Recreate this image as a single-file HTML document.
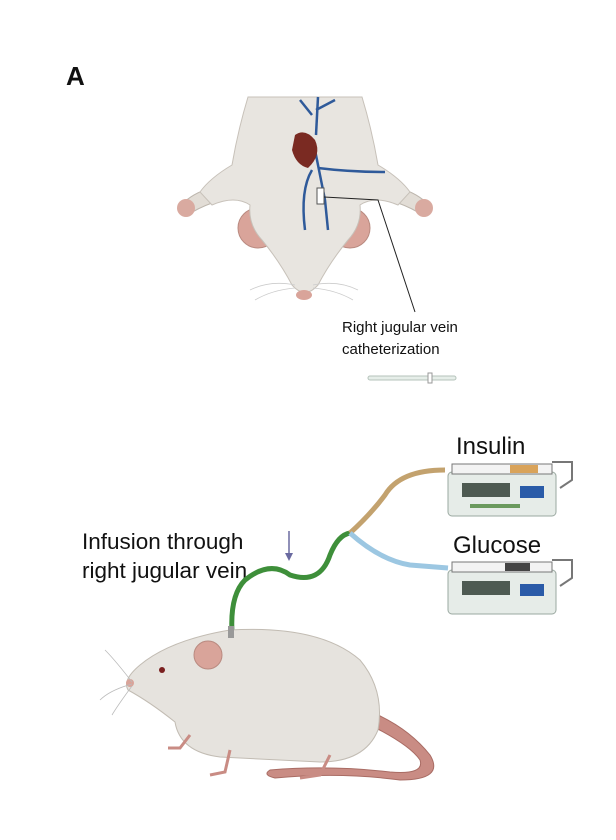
<!DOCTYPE html>
<html><head><meta charset="utf-8">
<style>
html,body{margin:0;padding:0;background:#fff;}
svg{display:block;font-family:"Liberation Sans",Arial,sans-serif;}
</style></head>
<body>
<svg width="616" height="840" viewBox="0 0 616 840">
<text x="66" y="85" font-size="26" font-weight="bold" fill="#111">A</text>

<g>
 <path d="M205,190 Q190,195 178,208 L186,216 Q198,208 212,203 Z" fill="#e2ddd6" stroke="#bdb6ad"/>
 <path d="M405,190 Q420,195 432,208 L424,216 Q412,208 398,203 Z" fill="#e2ddd6" stroke="#bdb6ad"/>
 <circle cx="186" cy="208" r="9" fill="#d9aaa0"/>
 <circle cx="424" cy="208" r="9" fill="#d9aaa0"/>
 <circle cx="258" cy="228" r="20" fill="#d9a49a" stroke="#b98a80"/>
 <circle cx="350" cy="228" r="20" fill="#d9a49a" stroke="#b98a80"/>
 <path d="M248,97 L362,97 Q372,130 378,165 Q400,178 410,192 L398,205 Q375,195 360,205 Q362,225 348,240 Q330,262 318,285 Q305,300 292,285 Q280,262 262,240 Q248,225 250,205 Q235,195 212,205 L200,192 Q210,178 232,165 Q238,130 248,97 Z" fill="#e8e5e0" stroke="#c7c1b9"/>
 <ellipse cx="304" cy="295" rx="8" ry="5" fill="#d9a49a"/>
 <g stroke="#ccc" stroke-width="0.8" fill="none">
  <path d="M295,285 Q270,280 250,290"/><path d="M295,288 Q272,290 255,300"/>
  <path d="M313,285 Q338,280 358,290"/><path d="M313,288 Q336,290 353,300"/>
 </g>
 <g stroke="#2f5a9a" stroke-width="2.5" fill="none">
  <path d="M318,97 L316,135"/><path d="M316,110 L335,100"/><path d="M312,115 L300,100"/>
  <path d="M315,150 Q320,175 325,200 L328,230"/>
  <path d="M318,168 Q350,172 385,172"/>
  <path d="M312,170 Q300,190 305,230"/>
 </g>
 <path d="M295,135 Q305,128 315,140 Q322,155 308,168 Q296,165 292,150 Z" fill="#7a2a22"/>
 <rect x="317" y="188" width="7" height="16" fill="#fff" stroke="#555"/>
</g>
<polyline points="324,197 378,200 415,312" fill="none" stroke="#222" stroke-width="1"/>
<text x="342" y="332" font-size="15" fill="#111">Right jugular vein</text>
<text x="342" y="354" font-size="15" fill="#111">catheterization</text>
<g>
 <rect x="368" y="376" width="88" height="4" rx="2" fill="#e6eee9" stroke="#b5c3bb"/>
 <rect x="428" y="373" width="4" height="10" fill="#fff" stroke="#999"/>
</g>

<text x="82" y="549" font-size="22.5" fill="#111">Infusion through</text>
<text x="82" y="578" font-size="22.5" fill="#111">right jugular vein</text>
<g>
 <line x1="289" y1="531" x2="289" y2="557" stroke="#6a6aa0" stroke-width="1.5"/>
 <path d="M285,553 L289,561 L293,553 Z" fill="#6a6aa0"/>
</g>

<path d="M232,632 Q230,595 245,580 Q270,560 290,575 Q320,585 330,555 Q338,535 350,533" fill="none" stroke="#3e8f3a" stroke-width="5"/>
<path d="M350,533 Q370,515 385,495 Q400,470 445,470" fill="none" stroke="#c3a26e" stroke-width="5"/>
<path d="M350,533 Q380,560 410,565 L448,568" fill="none" stroke="#9cc7e2" stroke-width="5"/>

<text x="456" y="454" font-size="24" fill="#111">Insulin</text>
<text x="453" y="553" font-size="24" fill="#111">Glucose</text>

<g>
 <rect x="448" y="472" width="108" height="44" rx="4" fill="#e6ece8" stroke="#9aa8a0"/>
 <rect x="462" y="483" width="48" height="14" fill="#4e5a52"/>
 <rect x="452" y="464" width="100" height="10" fill="#f3f3f3" stroke="#777"/>
 <rect x="510" y="465" width="28" height="8" fill="#d9a35a"/>
 <path d="M552,462 L572,462 L572,480 L560,488" fill="none" stroke="#777" stroke-width="2"/>
 <rect x="520" y="486" width="24" height="12" fill="#2a5ba8"/>
 <rect x="470" y="504" width="50" height="4" fill="#6b9a5e"/>
</g>
<g>
 <rect x="448" y="570" width="108" height="44" rx="4" fill="#e6ece8" stroke="#9aa8a0"/>
 <rect x="462" y="581" width="48" height="14" fill="#4e5a52"/>
 <rect x="452" y="562" width="100" height="10" fill="#f3f3f3" stroke="#777"/>
 <rect x="505" y="563" width="25" height="8" fill="#444"/>
 <path d="M552,560 L572,560 L572,578 L560,586" fill="none" stroke="#777" stroke-width="2"/>
 <rect x="520" y="584" width="24" height="12" fill="#2a5ba8"/>
</g>

<g>
 <path d="M370,725 Q410,745 420,760 Q425,775 390,772 Q330,765 270,770 Q262,775 275,778 Q340,772 400,780 Q445,780 430,755 Q410,730 378,715" fill="#c98c84" stroke="#a96c64"/>
 <path d="M140,665 Q170,640 230,630 Q320,625 360,660 Q385,690 378,730 Q365,762 320,762 L220,757 Q180,752 175,722 Q150,702 128,690 Q122,680 140,665 Z" fill="#e6e3de" stroke="#c2bcb3"/>
 <circle cx="208" cy="655" r="14" fill="#d9a49a" stroke="#b98a80"/>
 <circle cx="162" cy="670" r="3" fill="#7a1f1f"/>
 <circle cx="130" cy="683" r="4" fill="#d9a49a"/>
 <path d="M230,750 L225,772 L210,775" fill="none" stroke="#c98c84" stroke-width="3"/>
 <path d="M190,735 L180,748 L168,748" fill="none" stroke="#c98c84" stroke-width="3"/>
 <path d="M330,755 L320,775 L300,778" fill="none" stroke="#c98c84" stroke-width="3"/>
 <g stroke="#bbb" stroke-width="0.8" fill="none">
  <path d="M132,682 Q115,660 105,650"/><path d="M132,684 Q110,690 100,700"/><path d="M132,686 Q118,705 112,715"/>
 </g>
 <rect x="228" y="626" width="6" height="12" fill="#999"/>
</g>
</svg>
</body></html>
